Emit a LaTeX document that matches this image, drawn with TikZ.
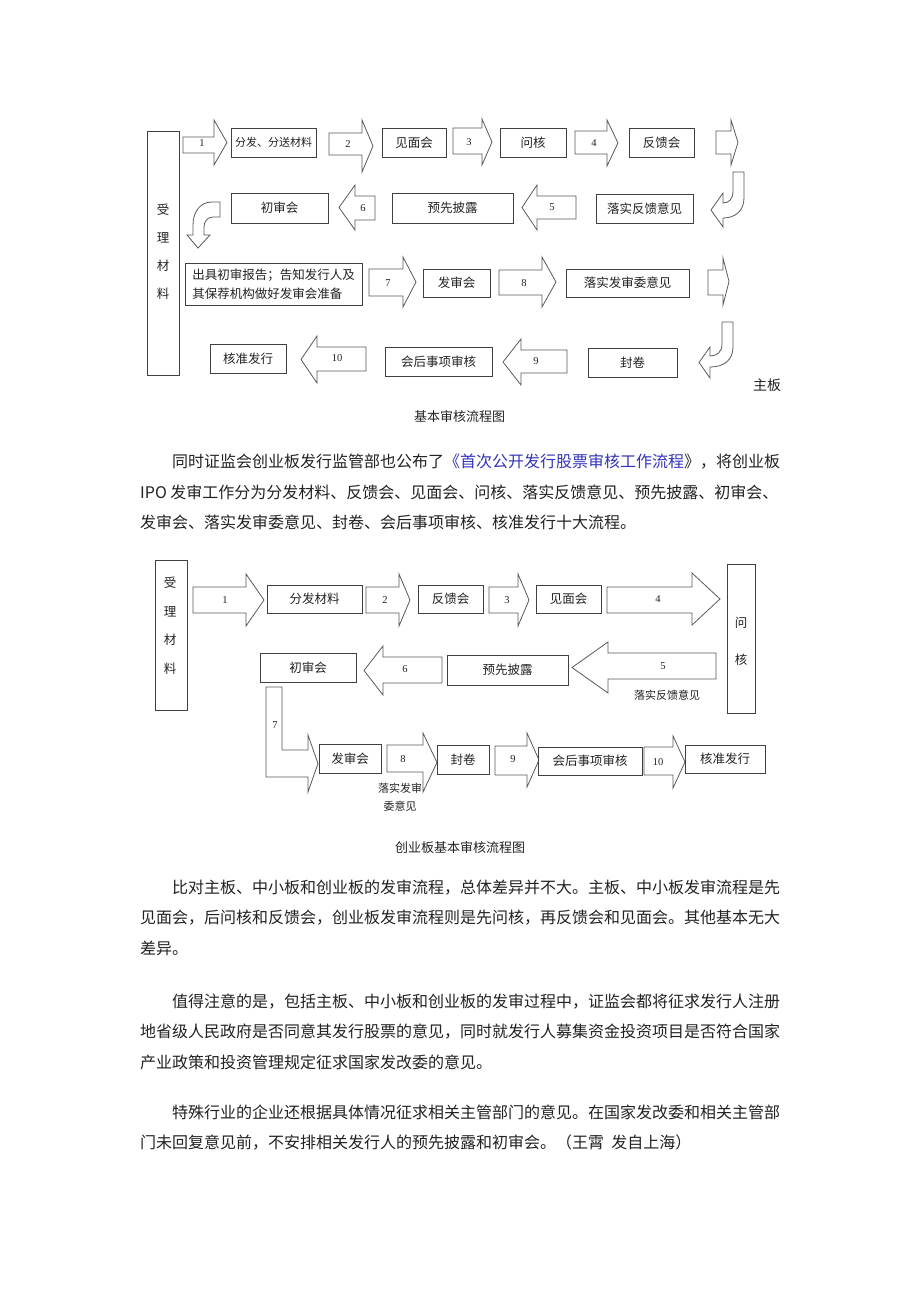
\documentclass[tikz,border=0pt]{standalone}
\usepackage{fontspec}
\setmainfont{Noto Sans CJK SC}
\newfontfamily\numfont{Liberation Serif}
\definecolor{boxc}{HTML}{404040}
\definecolor{arrc}{HTML}{5A5A5A}
\definecolor{txt}{HTML}{222222}
\definecolor{linkc}{HTML}{3333BB}
\newcommand\bx[6]{\node[box, minimum width={(#4-#2)*1pt}, minimum height={(#5-#3)*1pt}] (#1) at ({(#2+#4)/2},{(#3+#5)/2}) {#6};}
% arrow: x0 body end, x1 head base, xt tip, body top/bottom, head top/bottom
\newcommand\ar[7]{\draw[arr] (#1,#4) -- (#2,#4) -- (#2,#6) -- (#3,{(#6+#7)/2}) -- (#2,#7) -- (#2,#5) -- (#1,#5) -- cycle;}
\begin{document}
\begin{tikzpicture}[x=1pt,y=-1pt,
  box/.style={draw=boxc, line width=0.95pt, fill=white, inner sep=0pt, text=txt, font=\fontsize{12.5}{15}\selectfont},
  arr/.style={draw=arrc, line width=0.8pt, fill=white, line join=miter},
  num/.style={inner sep=0pt, text=txt, font=\numfont\fontsize{10.5}{11}\selectfont},
  smalltxt/.style={inner sep=0pt, text=txt, font=\fontsize{11}{18}\selectfont, align=center},
  bodytxt/.style={anchor=west, inner sep=0pt, text=txt, font=\fontsize{16}{16}\selectfont},
  captxt/.style={inner sep=0pt, text=txt, font=\fontsize{13}{13}\selectfont},
  vcol/.style={inner sep=0pt, text=txt, align=center}
]
\useasboundingbox[fill=white] (0,0) rectangle (920,1302);

% ================= Diagram 1 =================
\bx{a0}{147}{131}{179}{375}{}
\node[vcol, font=\fontsize{12.5}{28}\selectfont] (a0t) at (163,251.5) {受\\理\\材\\料};

\ar{183}{214}{227}{137}{153}{120}{165}
\node[num] (n1) at (202,143) {1};
\bx{a1}{231}{128}{316}{157}{\fontsize{11}{13}\selectfont 分发、分送材料}
\ar{329}{362}{373}{133}{155}{120}{172}
\node[num] (n2) at (348,144) {2};
\bx{a2}{382}{128}{446}{157}{见面会}
\ar{453}{482}{492}{128}{154}{119}{165}
\node[num] (n3) at (469,142) {3};
\bx{a3}{500}{128}{566}{157}{问核}
\ar{575}{607}{618}{131}{154}{120}{166}
\node[num] (n4) at (594,143) {4};
\bx{a4}{629}{128}{694}{157}{反馈会}
\ar{716}{731}{738}{131}{154}{120}{165}

% bent arrow right (down then left)
\draw[arr] (744,172) -- (744,198) .. controls (744,211) and (735,218) .. (723,218) -- (723,227) -- (711,210) -- (723,193) -- (723,203) .. controls (729,203) and (733,199) .. (733,191) -- (733,172) -- cycle;

\bx{a5}{596}{194}{693}{223}{落实反馈意见}
\ar{576}{537}{522}{196}{219}{185}{230}
\node[num] (n5) at (552,207) {5};
\bx{a6}{392}{193}{513}{223}{预先披露}
\ar{375}{355}{339}{196}{220}{185}{230}
\node[num] (n6) at (363,208) {6};
\bx{a7}{231}{193}{328}{223}{初审会}

% bent arrow left (left then down)
\draw[arr] (220,202) -- (212,202) .. controls (200,202) and (193,212) .. (193,225) -- (193,235) -- (187,235) -- (198,248) -- (210,235) -- (204,235) -- (204,227) .. controls (204,221) and (208,217) .. (213,217) -- (220,217) -- cycle;

\node[box, minimum width=177pt, minimum height=42pt, align=left, font=\fontsize{12.5}{19}\selectfont] (a8) at (273.5,284) {出具初审报告；告知发行人及\\其保荐机构做好发审会准备};
\ar{369}{403}{416}{269}{296}{257}{307}
\node[num] (n7) at (388,283) {7};
\bx{a9}{423}{269}{490}{297}{发审会}
\ar{499}{542}{556}{270}{295}{257}{307}
\node[num] (n8) at (524,283) {8};
\bx{a10}{566}{269}{689}{297}{落实发审委意见}
\ar{708}{723}{729}{270}{295}{258}{305}

% bent arrow right lower
\draw[arr] (733,322) -- (733,347) .. controls (733,360) and (724,367) .. (710,367) -- (710,378) -- (699,362.5) -- (710,347) -- (710,356) .. controls (717,356) and (722,352) .. (722,344) -- (722,322) -- cycle;

\bx{a11}{588}{348}{677}{377}{封卷}
\ar{567}{521}{503}{350}{373}{339}{385}
\node[num] (n9) at (536,361) {9};
\bx{a12}{385}{347}{492}{376}{会后事项审核}
\ar{366}{317}{301}{347}{371}{336}{383}
\node[num] (n10) at (337,358) {10};
\bx{a13}{210}{344}{286}{373}{核准发行}

\node[inner sep=0pt, text=txt, font=\fontsize{14}{14}\selectfont] (zb) at (767,385) {主板};

\node[captxt] (cap1) at (459.5,417) {基本审核流程图};

\node[bodytxt] (p1a) at (172,462) {同时证监会创业板发行监管部也公布了{\color{linkc}《首次公开发行股票审核工作流程}》，将创业板};
\node[bodytxt] (p1b) at (140,492) {IPO 发审工作分为分发材料、反馈会、见面会、问核、落实反馈意见、预先披露、初审会、};
\node[bodytxt] (p1c) at (140,522) {发审会、落实发审委意见、封卷、会后事项审核、核准发行十大流程。};

% ================= Diagram 2 =================
\bx{b0}{155}{560}{187}{710}{}
\node[vcol, font=\fontsize{12.5}{28.5}\selectfont] (b0t) at (170,625.5) {受\\理\\材\\料};

\ar{193}{246}{264}{587}{613}{574}{626}
\node[num] (m1) at (225,600) {1};
\bx{b1}{267}{585}{362}{613}{分发材料}
\ar{366}{399}{410}{587}{613}{574}{626}
\node[num] (m2) at (385,600) {2};
\bx{b2}{418}{585}{483}{613}{反馈会}
\ar{489}{518}{529}{587}{613}{574}{626}
\node[num] (m3) at (507,600) {3};
\bx{b3}{536}{585}{601}{613}{见面会}
\ar{607}{692}{720}{587}{613}{573}{625}
\node[num] (m4) at (658,599) {4};
\bx{b4}{727}{564}{755}{713}{}
\node[vcol, font=\fontsize{12.5}{37}\selectfont] (b4t) at (741,641.5) {问\\核};

\ar{716}{608}{572}{653}{679}{642}{693}
\node[num] (m5) at (663,666) {5};
\node[smalltxt] (l5) at (667,695) {落实反馈意见};
\bx{b5}{447}{655}{568}{685}{预先披露}
\ar{442}{383}{364}{657}{683}{646}{695}
\node[num] (m6) at (405,669) {6};
\bx{b6}{260}{653}{356}{682}{初审会}

% L-shaped arrow 7
\draw[arr] (266,687) -- (282,687) -- (282,750) -- (308,750) -- (308,735) -- (318,763.5) -- (308,792) -- (308,777) -- (266,777) -- cycle;
\node[num] (m7) at (275,725) {7};

\bx{b7}{319}{744}{381}{773}{发审会}
\ar{387}{423}{437}{745}{772}{733}{792}
\node[num] (m8) at (403,759) {8};
\node[smalltxt] (l8) at (400,797) {落实发审\\委意见};
\bx{b8}{437}{745}{489}{774}{封卷}
\ar{495}{527}{539}{746}{775}{733}{787}
\node[num] (m9) at (513,759) {9};
\bx{b9}{538}{747}{642}{775}{会后事项审核}
\ar{644}{673}{685}{747}{775}{736}{788}
\node[num] (m10) at (658,762) {10};
\bx{b10}{685}{745}{765}{773}{核准发行}

\node[captxt] (cap2) at (460,848) {创业板基本审核流程图};

\node[bodytxt] (p2a) at (172,888) {比对主板、中小板和创业板的发审流程，总体差异并不大。主板、中小板发审流程是先};
\node[bodytxt] (p2b) at (140,918) {见面会，后问核和反馈会，创业板发审流程则是先问核，再反馈会和见面会。其他基本无大};
\node[bodytxt] (p2c) at (140,948) {差异。};

\node[bodytxt] (p3a) at (172,1002) {值得注意的是，包括主板、中小板和创业板的发审过程中，证监会都将征求发行人注册};
\node[bodytxt] (p3b) at (140,1032) {地省级人民政府是否同意其发行股票的意见，同时就发行人募集资金投资项目是否符合国家};
\node[bodytxt] (p3c) at (140,1062) {产业政策和投资管理规定征求国家发改委的意见。};

\node[bodytxt] (p4a) at (172,1112) {特殊行业的企业还根据具体情况征求相关主管部门的意见。在国家发改委和相关主管部};
\node[bodytxt] (p4b) at (140,1142) {门未回复意见前，不安排相关发行人的预先披露和初审会。（王霄\ \ 发自上海）};
\end{tikzpicture}
\end{document}
